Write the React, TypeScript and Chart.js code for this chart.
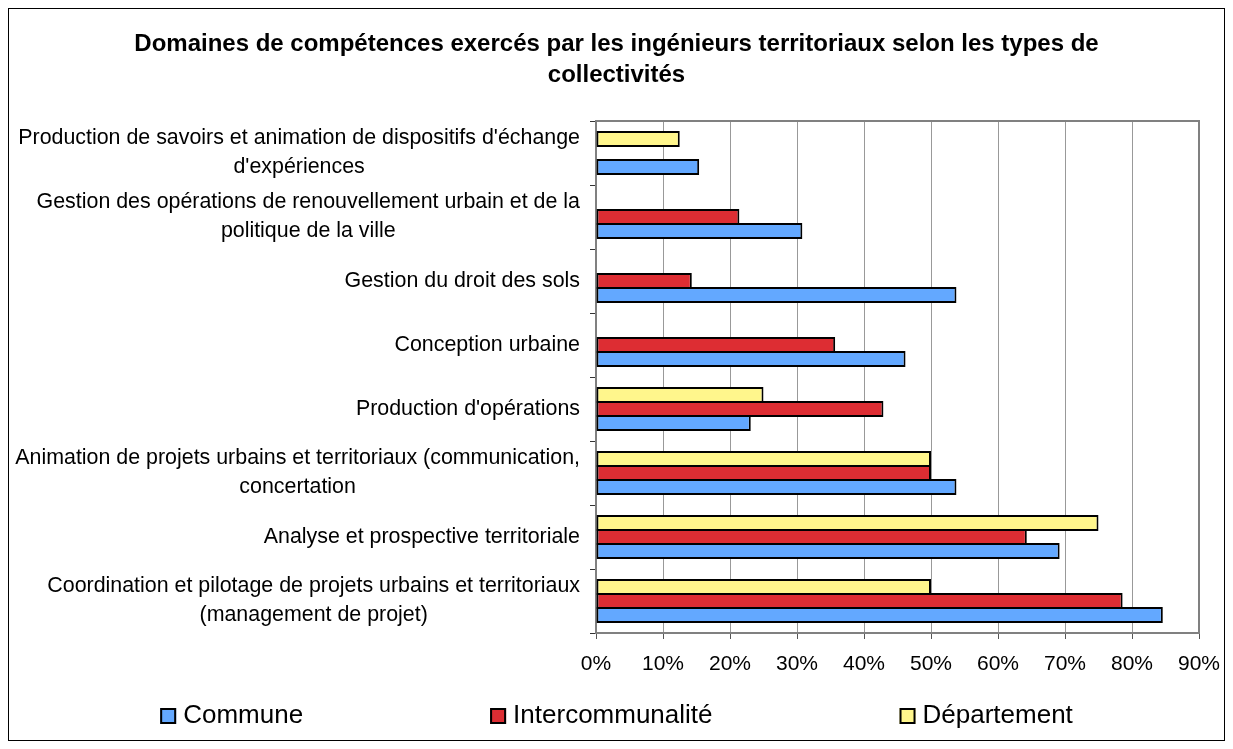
import React, { useEffect, useRef } from "react";
import { Chart, registerables } from "chart.js";

Chart.register(...registerables);

const FONT = '"Liberation Sans", Arial, Helvetica, sans-serif';

const titleLines = [
  "Domaines de compétences exercés par les ingénieurs territoriaux selon les types de",
  "collectivités",
];

const categories: string[][] = [
  ["Production de savoirs et animation de dispositifs d'échange", "d'expériences"],
  ["Gestion des opérations de renouvellement urbain et de la", "politique de la ville"],
  ["Gestion du droit des sols"],
  ["Conception urbaine"],
  ["Production d'opérations"],
  ["Animation de projets urbains et territoriaux (communication,", "concertation"],
  ["Analyse et prospective territoriale"],
  ["Coordination et pilotage de projets urbains et territoriaux", "(management de projet)"],
];

const communeValues = [15.4, 30.8, 53.8, 46.2, 23.1, 53.8, 69.2, 84.6];
const intercommunaliteValues = [null, 21.4, 14.3, 35.7, 42.9, 50.0, 64.3, 78.6];
const departementValues = [12.5, null, null, null, 25.0, 50.0, 75.0, 50.0];

const xTickValues = [0, 10, 20, 30, 40, 50, 60, 70, 80, 90];

const BLUE = "#63A8FF";
const RED = "#DD2D33";
const YELLOW = "#FFF68C";

const plotBorderPlugin = {
  id: "plotBorder",
  beforeDatasetsDraw(chart: any) {
    const { ctx, chartArea } = chart;
    ctx.save();
    ctx.strokeStyle = "#808080";
    ctx.lineWidth = 2;
    ctx.strokeRect(chartArea.left, chartArea.top, chartArea.right - chartArea.left, chartArea.bottom - chartArea.top);
    ctx.restore();
  },
};

const yLabelPlugin = {
  id: "yLabels",
  afterDraw(chart: any) {
    const { ctx, chartArea } = chart;
    const yScale = chart.scales.y;
    ctx.save();
    ctx.font = `21.4px ${FONT}`;
    ctx.fillStyle = "#000";
    ctx.textAlign = "center";
    ctx.textBaseline = "middle";
    const right = chartArea.left - 16;
    const lh = 29;
    (chart.data.labels as string[][]).forEach((lines, i) => {
      const cy = yScale.getPixelForValue(i);
      const w = Math.max(...lines.map((l) => ctx.measureText(l).width));
      const cx = right - w / 2;
      lines.forEach((l, j) => {
        ctx.fillText(l, cx, cy + (j - (lines.length - 1) / 2) * lh);
      });
    });
    ctx.restore();
  },
};

const legendPlugin = {
  id: "customLegend",
  afterDraw(chart: any) {
    const ctx = chart.ctx;
    ctx.save();
    ctx.font = `26px ${FONT}`;
    const items = [...chart.data.datasets].reverse();
    const box = 16;
    const gap = 7;
    const spacing = 187;
    const widths = items.map((d: any) => box + gap + ctx.measureText(d.label).width);
    const total = widths.reduce((a: number, b: number) => a + b, 0) + spacing * (items.length - 1);
    let x = chart.width / 2 - total / 2;
    const baseY = chart.height - 17;
    items.forEach((d: any, i: number) => {
      ctx.fillStyle = d.backgroundColor;
      ctx.fillRect(x, baseY - 15, box, box);
      ctx.strokeStyle = "#000";
      ctx.lineWidth = 2;
      ctx.strokeRect(x + 1, baseY - 14, box - 2, box - 2);
      ctx.fillStyle = "#000";
      ctx.textAlign = "left";
      ctx.textBaseline = "alphabetic";
      ctx.fillText(d.label, x + box + gap, baseY);
      x += widths[i] + spacing;
    });
    ctx.restore();
  },
};

export default function App() {
  const canvasRef = useRef<HTMLCanvasElement>(null);

  useEffect(() => {
    if (!canvasRef.current) return;
    Chart.defaults.font.family = FONT;
    const common = {
      borderColor: "#000",
      borderWidth: 2,
      borderSkipped: false,
      barPercentage: 16 / 14,
      categoryPercentage: 42 / 64,
    };
    const chart = new Chart(canvasRef.current, {
      type: "bar",
      data: {
        labels: categories as any,
        datasets: [
          { label: "Département", data: departementValues as any, backgroundColor: YELLOW, ...common },
          { label: "Intercommunalité", data: intercommunaliteValues as any, backgroundColor: RED, ...common },
          { label: "Commune", data: communeValues, backgroundColor: BLUE, ...common },
        ] as any,
      },
      options: {
        indexAxis: "y",
        responsive: false,
        animation: false,
        layout: { padding: { left: 0, right: 0, top: 0, bottom: 57 } },
        plugins: {
          legend: { display: false },
          tooltip: { enabled: false },
          title: {
            display: true,
            text: titleLines,
            color: "#000",
            font: { family: FONT, size: 24, weight: "bold", lineHeight: 31 / 24 },
            padding: { top: 20, bottom: 30 },
          },
        },
        scales: {
          x: {
            type: "linear",
            min: 0,
            max: 90,
            afterBuildTicks: (s: any) => {
              s.ticks = xTickValues.map((v) => ({ value: v }));
            },
            ticks: {
              callback: (v: any) => `${v}%`,
              color: "#000",
              font: { size: 21 },
              padding: 13,
              maxRotation: 0,
              autoSkip: false,
            },
            grid: { color: "#999", lineWidth: 1, tickLength: 6, tickColor: "#555" },
            border: { display: false },
            afterFit: (s: any) => {
              s.height = 50;
              s.paddingLeft = 0;
              s.paddingRight = 25;
            },
          },
          y: {
            type: "category",
            ticks: { display: false },
            grid: { drawOnChartArea: false, drawTicks: true, tickLength: 6, color: "#333", offset: true },
            border: { display: false },
            afterFit: (s: any) => {
              s.width = 587;
            },
          },
        },
      } as any,
      plugins: [plotBorderPlugin, yLabelPlugin, legendPlugin],
    });
    return () => chart.destroy();
  }, []);

  return (
    <div style={{ width: 1215, height: 731, border: "1px solid #000" }}>
      <canvas ref={canvasRef} width={1215} height={731} style={{ display: "block" }} />
    </div>
  );
}
